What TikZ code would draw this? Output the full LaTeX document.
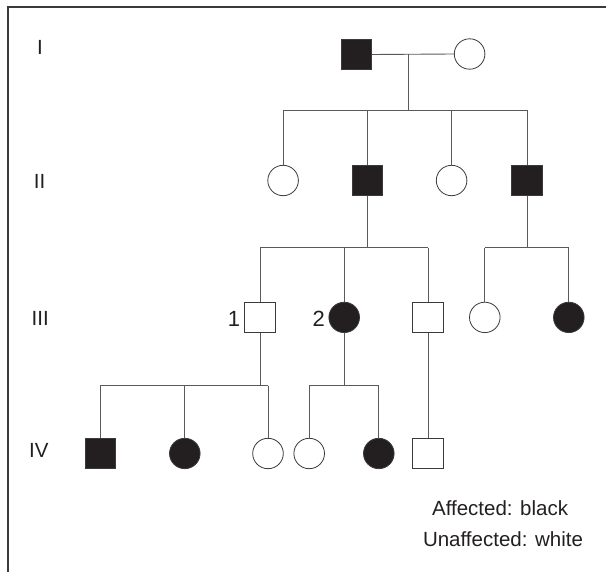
\documentclass[tikz,border=0pt]{standalone}
\usepackage{fontspec}
\setmainfont{Liberation Sans}
\usetikzlibrary{shapes.geometric}
\definecolor{fillc}{HTML}{231F20}
\definecolor{outl}{HTML}{3A3A3A}
\definecolor{linec}{HTML}{5A5A5A}
\definecolor{txt}{HTML}{231F20}
\begin{document}
\begin{tikzpicture}[x=1pt,y=-1pt,
  male/.style={draw=outl, rectangle, minimum width=30.8pt, minimum height=30.4pt, inner sep=0pt, line width=0.8pt},
  female/.style={draw=outl, ellipse, minimum width=30.6pt, minimum height=30.4pt, inner sep=0pt, line width=0.8pt},
  aff/.style={fill=fillc},
  unaff/.style={fill=white},
  link/.style={draw=linec, line width=0.9pt},
  frame/.style={draw=outl, line width=1.1pt},
  gen/.style={font=\fontsize{20.5}{22}\selectfont, text=txt},
  num/.style={font=\fontsize{22}{24}\selectfont, text=txt},
  legend/.style={font=\fontsize{20.5}{22}\selectfont, text=txt}]
\useasboundingbox (0,0) rectangle (606,572);
% frame (only top and left edges visible)
\draw[frame] (8,572) -- (8,7) -- (606,7);

% generation labels
\node[gen] (gI) at (39.9,47.5) {I};
\node[gen] (gII) at (39.6,181) {II};
\node[gen] (gIII) at (40.2,318) {III};
\node[gen] (gIV) at (38.8,450) {IV};

% Generation I
\node[male,aff] (I1) at (356.3,54.5) {};
\node[female,unaff] (I2) at (469.6,54) {};

% Generation II
\node[female,unaff] (II1) at (283.1,180.5) {};
\node[male,aff] (II2) at (367.3,180.5) {};
\node[female,unaff] (II3) at (451.6,180.5) {};
\node[male,aff] (II4) at (527.2,180.5) {};

% Generation III
\node[male,unaff] (III1) at (260.2,317.4) {};
\node[female,aff] (III2) at (344.2,317.4) {};
\node[male,unaff] (III3) at (428.2,317.4) {};
\node[female,unaff] (III4) at (484.8,317.4) {};
\node[female,aff] (III5) at (568.8,317.4) {};
\node[num] (n1) at (234,319) {1};
\node[num] (n2) at (318.8,318.8) {2};

% Generation IV
\node[male,aff] (IV1) at (100.3,453.5) {};
\node[female,aff] (IV2) at (184.8,453.5) {};
\node[female,unaff] (IV3) at (268,453.5) {};
\node[female,unaff] (IV4) at (309.2,453.5) {};
\node[female,aff] (IV5) at (378.8,453.5) {};
\node[male,unaff] (IV6) at (428.2,453.5) {};

% helper coordinates
\coordinate (m1) at (408.9,53.8);
\coordinate (s1) at (408.9,110);
\coordinate (s2) at (367.3,247.7);
\coordinate (s3) at (260.2,385.7);

% connectors
\draw[link] (I1.east) -- (I2.west);
\draw[link] (m1) -- (s1);
\draw[link] (II1.north |- s1) -- (II4.north |- s1);
\draw[link] (II1.north |- s1) -- (II1.north);
\draw[link] (II2.north |- s1) -- (II2.north);
\draw[link] (II3.north |- s1) -- (II3.north);
\draw[link] (II4.north |- s1) -- (II4.north);

\draw[link] (II2.south) -- (II2.south |- s2);
\draw[link] (III1.north |- s2) -- (III3.north |- s2);
\draw[link] (III1.north |- s2) -- (III1.north);
\draw[link] (III2.north |- s2) -- (III2.north);
\draw[link] (III3.north |- s2) -- (III3.north);

\draw[link] (II4.south) -- (II4.south |- s2);
\draw[link] (III4.north |- s2) -- (III5.north |- s2);
\draw[link] (III4.north |- s2) -- (III4.north);
\draw[link] (III5.north |- s2) -- (III5.north);

\draw[link] (III1.south) -- (III1.south |- s3);
\draw[link] (IV1.north |- s3) -- (IV3.north |- s3);
\draw[link] (IV1.north |- s3) -- (IV1.north);
\draw[link] (IV2.north |- s3) -- (IV2.north);
\draw[link] (IV3.north |- s3) -- (IV3.north);

\draw[link] (III2.south) -- (III2.south |- s3);
\draw[link] (IV4.north |- s3) -- (IV5.north |- s3);
\draw[link] (IV4.north |- s3) -- (IV4.north);
\draw[link] (IV5.north |- s3) -- (IV5.north);

\draw[link] (III3.south) -- (IV6.north);

% legend
\node[legend] (leg1) at (500.1,508) {Affected: black};
\node[legend] (leg2) at (503,539.5) {Unaffected: white};
\end{tikzpicture}
\end{document}
